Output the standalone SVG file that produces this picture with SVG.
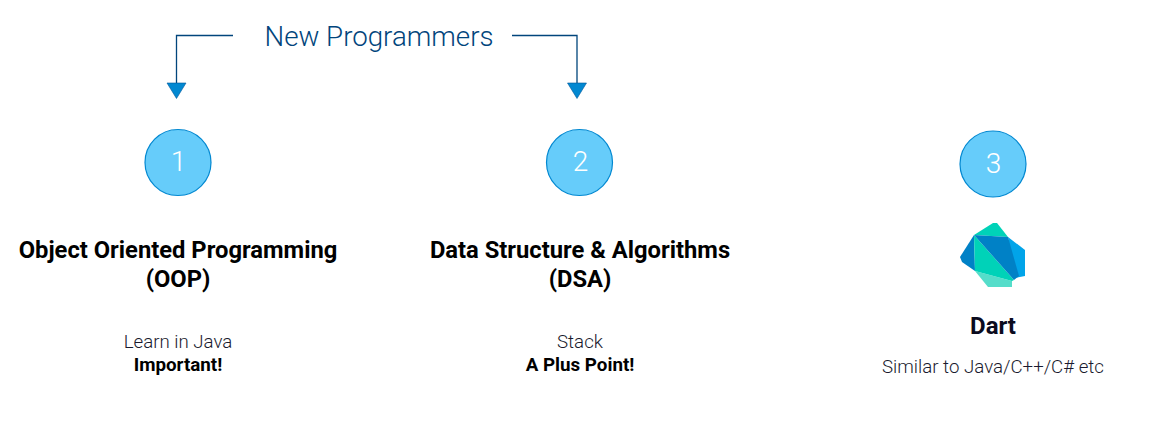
<svg xmlns="http://www.w3.org/2000/svg" width="1151" height="436" viewBox="0 0 1151 436">
<defs>
<style>
text{font-family:Roboto,"Liberation Sans",sans-serif;text-anchor:middle}
.circ{fill:#66ccfa;stroke:#0288d1;stroke-width:1.2}
.num{font-size:28px;font-weight:300;fill:#fff}
.title{font-size:23.75px;font-weight:700;fill:#000}
.sub{font-size:18.7px;font-weight:300;fill:#1a1a2e}
.strong{font-size:18.8px;font-weight:700;fill:#000}
.conn{fill:none;stroke:#01457c;stroke-width:1.3}
.head{fill:#0288d1;stroke:#01579b;stroke-width:.6}
</style>
</defs>
<rect width="1151" height="436" fill="#fff"/>
<g id="connectors">
<path class="conn" d="M233 35.500H176.500V83"/>
<polygon class="head" points="167,83 186,83 176.500,98.500"/>
<path class="conn" d="M512 35.500H577V83"/>
<polygon class="head" points="567.500,83 586.500,83 577,98.500"/>
</g>
<g id="source">
<text x="379" y="46" font-size="27.700" font-weight="300" fill="#01457c">New Programmers</text>
</g>
<g id="node-1">
<circle class="circ" cx="178" cy="162.500" r="33"/>
<text class="num" x="178.500" y="171">1</text>
<text class="title" x="178" y="257.500">Object Oriented Programming</text>
<text class="title" x="178" y="287">(OOP)</text>
<text class="sub" x="178" y="347.500">Learn in Java</text>
<text class="strong" x="178" y="371">Important!</text>
</g>
<g id="node-2">
<circle class="circ" cx="579.500" cy="162.500" r="33"/>
<text class="num" x="580.500" y="171">2</text>
<text class="title" x="580" y="257.500">Data Structure &amp; Algorithms</text>
<text class="title" x="580" y="287">(DSA)</text>
<text class="sub" x="580" y="347.500">Stack</text>
<text class="strong" x="580" y="371">A Plus Point!</text>
</g>
<g id="node-3">
<circle class="circ" cx="993" cy="164" r="33"/>
<text class="num" x="993.500" y="173">3</text>
<polygon fill="#00d2b8" points="974,235 993,223 997,223 1008,237"/>
<polygon fill="#01a4e9" points="1008,237 1025,250 1025,276 1014,278"/>
<polygon fill="#55ddca" points="975,271 1012,281 1012,287 988,287"/>
<polygon fill="#0081c6" points="974,235 975,271 962,262 960,257"/>
<polygon fill="#00d2b8" points="974,235 1014,280 1012,281 975,271"/>
<polygon fill="#0081c6" points="974,235 1008,237 1019,276 1014,280"/>
<text x="993" y="334" font-size="24" font-weight="700" fill="#0b0b1e">Dart</text>
<text class="sub" x="993" y="373">Similar to Java/C++/C# etc</text>
</g>
</svg>
